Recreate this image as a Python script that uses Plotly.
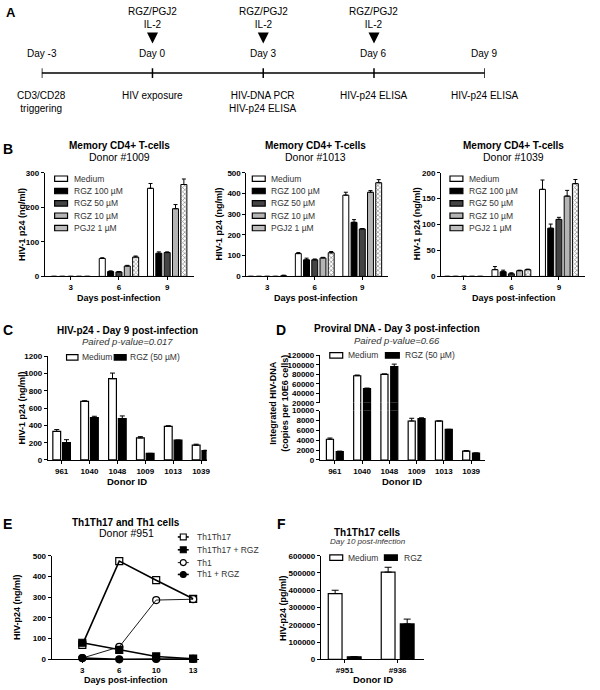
import plotly.graph_objects as go

W, H = 600, 690
FONT = "Liberation Sans, Arial, Helvetica, sans-serif"

# ---------------- DATA ----------------
# Panel A (timeline)
timeline_days = [-3, 0, 3, 6, 9]
timeline_day_labels = ["Day -3", "Day 0", "Day 3", "Day 6", "Day 9"]
timeline_events = ["CD3/CD28<br>triggering", "HIV exposure", "HIV-DNA PCR<br>HIV-p24 ELISA",
                   "HIV-p24 ELISA", "HIV-p24 ELISA"]
treatment_days = [0, 3, 6]
treatment_text = "RGZ/PGJ2<br>IL-2"

# Panel B (memory CD4+ T-cells, HIV-1 p24 ng/ml)
b_days = ["3", "6", "9"]
b_series = ["Medium", "RGZ 100 µM", "RGZ 50 µM", "RGZ 10 µM", "PGJ2 1 µM"]
b_donors = ["Donor #1009", "Donor #1013", "Donor #1039"]

d1009_medium = [0, 52, 255];  d1009_medium_err = [0, 2, 14]
d1009_rgz100 = [0, 14, 67];   d1009_rgz100_err = [0, 2, 4]
d1009_rgz50 = [0, 13, 69];    d1009_rgz50_err = [0, 1, 2]
d1009_rgz10 = [0, 30, 196];   d1009_rgz10_err = [0, 2, 12]
d1009_pgj2 = [0, 56, 266];    d1009_pgj2_err = [0, 3, 16]

d1013_medium = [0, 110, 392]; d1013_medium_err = [0, 5, 14]
d1013_rgz100 = [0, 80, 261];  d1013_rgz100_err = [0, 8, 13]
d1013_rgz50 = [0, 80, 229];   d1013_rgz50_err = [0, 4, 2]
d1013_rgz10 = [0, 89, 406];   d1013_rgz10_err = [0, 3, 8]
d1013_pgj2 = [3, 114, 452];   d1013_pgj2_err = [3, 6, 15]

d1039_medium = [0, 13, 168];  d1039_medium_err = [0, 6, 18]
d1039_rgz100 = [0, 9, 93];    d1039_rgz100_err = [0, 3, 8]
d1039_rgz50 = [0, 5, 110];    d1039_rgz50_err = [0, 2, 4]
d1039_rgz10 = [0, 11, 155];   d1039_rgz10_err = [0, 1, 11]
d1039_pgj2 = [0, 13, 179];    d1039_pgj2_err = [0, 1, 8]

b_yticks = [[0, 100, 200, 300], [0, 100, 200, 300, 400, 500], [0, 50, 100, 150, 200]]

# Panel C (HIV-p24 day 9)
c_donors = ["961", "1040", "1048", "1009", "1013", "1039"]
c_medium = [330, 678, 941, 255, 389, 171]
c_medium_err = [22, 8, 65, 15, 8, 12]
c_rgz = [200, 491, 478, 76, 229, 108]
c_rgz_err = [35, 15, 32, 0, 0, 5]
c_yticks = [0, 200, 400, 600, 800, 1000, 1200]

# Panel D (proviral DNA day 3)
d_donors = ["961", "1040", "1048", "1009", "1013", "1039"]
d_medium = [4200, 77000, 80000, 7900, 7900, 1800]
d_medium_err = [250, 1500, 800, 550, 0, 100]
d_rgz = [1700, 50000, 96500, 8400, 6200, 1400]
d_rgz_err = [100, 1000, 5000, 150, 0, 0]
d_yticks_low = [0, 2000, 4000, 6000, 8000, 10000]
d_yticks_high = [20000, 40000, 60000, 80000, 100000, 120000]

# Panel E (Th1Th17 and Th1 cells, donor #951)
e_days = ["3", "6", "10", "13"]
e_th1th17 = [70, 474, 382, 292]
e_th1th17_rgz = [80, 46, 14, 3]
e_th1 = [6, 60, 286, 290]
e_th1_rgz = [6, 0, 2, 2]
e_yticks = [0, 100, 200, 300, 400, 500]

# Panel F (Th1Th17 cells day 10)
f_donors = ["#951", "#936"]
f_medium = [381000, 505000]
f_medium_err = [19000, 28000]
f_rgz = [15000, 205000]
f_rgz_err = [0, 28000]
f_yticks = [0, 100000, 200000, 300000, 400000, 500000, 600000]

# ---------------- HELPERS ----------------
def px(x):
    return x / W

def py(y):
    return 1 - y / H

def dom_x(a, b):
    return [a / W, b / W]

def dom_y(top, bottom):
    return [1 - bottom / H, 1 - top / H]

TICKFONT = dict(family=FONT, size=8, color="black", weight="bold")

def axstyle(**kw):
    d = dict(showline=True, linecolor="black", linewidth=1, ticks="outside", ticklen=3,
             tickwidth=1, tickcolor="black", showgrid=False, zeroline=False,
             tickfont=TICKFONT, fixedrange=True)
    d.update(kw)
    return d

annotations = []
shapes = []

def text(x, y, s, size=10, bold=False, italic=False, color="black", xanchor="center",
         yanchor="middle", angle=0, align="center"):
    annotations.append(dict(
        x=px(x), y=py(y), xref="paper", yref="paper", text=s, showarrow=False,
        xanchor=xanchor, yanchor=yanchor, textangle=angle, align=align, borderpad=0,
        font=dict(family=FONT, size=size, color=color,
                  weight="bold" if bold else "normal",
                  style="italic" if italic else "normal")))

def legend_box(x0, yc, w, h, fill):
    shapes.append(dict(type="rect", xref="paper", yref="paper",
                       x0=px(x0), x1=px(x0 + w), y0=py(yc + h / 2), y1=py(yc - h / 2),
                       line=dict(color="black", width=1.2), fillcolor=fill, layer="above"))

fig = go.Figure()
layout = {}

# ---------------- PANEL A ----------------
layout["xaxis"] = dict(domain=dom_x(42, 488), range=[-3, 9], visible=False, fixedrange=True)
layout["yaxis"] = dict(domain=dom_y(0, 110), range=[110, 0], visible=False, fixedrange=True, anchor="x")
LINE_Y = 70
fig.add_trace(go.Scatter(x=timeline_days, y=[LINE_Y] * len(timeline_days), mode="lines+markers",
                         line=dict(color="black", width=1.5),
                         marker=dict(symbol="line-ns", size=7, line=dict(color="black", width=1.5)),
                         xaxis="x", yaxis="y", showlegend=False, hoverinfo="skip"))
for d, lab, ev in zip(timeline_days, timeline_day_labels, timeline_events):
    annotations.append(dict(x=d, y=50, xref="x", yref="y", text=lab, showarrow=False,
                            font=dict(family=FONT, size=10, color="black")))
    annotations.append(dict(x=d, y=85, xref="x", yref="y", text=ev, showarrow=False,
                            yanchor="top", font=dict(family=FONT, size=10, color="black")))
for d in treatment_days:
    annotations.append(dict(x=d, y=14, xref="x", yref="y", text=treatment_text, showarrow=False,
                            font=dict(family=FONT, size=10, color="black")))
    annotations.append(dict(x=d, y=40, xref="x", yref="y", ax=d, ay=29, axref="x", ayref="y",
                            text="", showarrow=True, arrowhead=2, arrowsize=1.1, arrowwidth=2,
                            arrowcolor="black"))
text(11, 9, "A", size=13, bold=True)

# ---------------- PANEL B ----------------
b_data = [
    [(d1009_medium, d1009_medium_err), (d1009_rgz100, d1009_rgz100_err), (d1009_rgz50, d1009_rgz50_err),
     (d1009_rgz10, d1009_rgz10_err), (d1009_pgj2, d1009_pgj2_err)],
    [(d1013_medium, d1013_medium_err), (d1013_rgz100, d1013_rgz100_err), (d1013_rgz50, d1013_rgz50_err),
     (d1013_rgz10, d1013_rgz10_err), (d1013_pgj2, d1013_pgj2_err)],
    [(d1039_medium, d1039_medium_err), (d1039_rgz100, d1039_rgz100_err), (d1039_rgz50, d1039_rgz50_err),
     (d1039_rgz10, d1039_rgz10_err), (d1039_pgj2, d1039_pgj2_err)],
]
b_fills = ["white", "black", "#444444", "#b4b4b4", "white"]
b_legend_fills = ["white", "black", "#444444", "#b4b4b4", "#bdbdbd"]
b_xdom = [(45, 195), (248, 391), (444, 589)]
b_xrange = [[-0.54, 2.55], [-0.44, 2.55], [-0.48, 2.55]]
b_center = [120, 318, 517]
b_ylab_x = [22, 221, 420]
b_leg_x = [55, 254, 453]
b_leg_y = [177, 189.5, 202, 214.5, 227]
BW, BSTEP = 0.125, 0.173

for p in range(3):
    xa, ya = f"x{p+2}", f"y{p+2}"
    layout[f"xaxis{p+2}"] = axstyle(domain=dom_x(*b_xdom[p]), range=b_xrange[p], type="category",
                                    categoryorder="array", categoryarray=b_days, anchor=ya)
    layout[f"yaxis{p+2}"] = axstyle(domain=dom_y(171, 276), range=[0, b_yticks[p][-1]],
                                    tickvals=b_yticks[p], anchor=xa)
    for i, ((vals, errs), name) in enumerate(zip(b_data[p], b_series)):
        marker = dict(color=b_fills[i], line=dict(color="black", width=1))
        if i == 4:
            marker["pattern"] = dict(shape="x", size=3, solidity=0.45, fgcolor="#333333", bgcolor="white")
        fig.add_trace(go.Bar(x=b_days, y=vals, name=name, xaxis=xa, yaxis=ya, showlegend=False,
                             width=BW, offset=(i - 2) * BSTEP - BW / 2, marker=marker,
                             error_y=dict(type="data", array=errs, arrayminus=[0] * len(errs),
                                          symmetric=False, color="black", thickness=1, width=2)))
    text(b_center[p], 143, "Memory CD4+ T-cells", size=10, bold=True)
    text(b_center[p], 155, b_donors[p], size=10.5)
    text(b_center[p], 298, "Days post-infection", size=9, bold=True)
    text(b_ylab_x[p], 223, "HIV-1 p24 (ng/ml)", size=9, bold=True, angle=-90)
    for i, name in enumerate(b_series):
        legend_box(b_leg_x[p], b_leg_y[i], 13, 5.5, b_legend_fills[i])
        text(b_leg_x[p] + 18, b_leg_y[i], name, size=8.5, color="#333333", xanchor="left")
text(8, 147, "B", size=14, bold=True)

# ---------------- PANEL C ----------------
layout["xaxis5"] = axstyle(domain=dom_x(48, 208), range=[-0.5, 5.2], type="category",
                           categoryorder="array", categoryarray=c_donors, anchor="y5")
layout["yaxis5"] = axstyle(domain=dom_y(357, 462), range=[0, 1200], tickvals=c_yticks, anchor="x5")
for vals, errs, fill, off in [(c_medium, c_medium_err, "white", -0.315),
                              (c_rgz, c_rgz_err, "black", 0.035)]:
    fig.add_trace(go.Bar(x=c_donors, y=vals, xaxis="x5", yaxis="y5", showlegend=False,
                         width=0.28, offset=off,
                         marker=dict(color=fill, line=dict(color="black", width=1.2)),
                         error_y=dict(type="data", array=errs, arrayminus=[0] * len(errs),
                                      symmetric=False, color="black", thickness=1, width=2.5)))
text(8, 330, "C", size=14, bold=True)
text(128, 331, "HIV-p24 - Day 9 post-infection", size=10, bold=True)
text(128, 342, "Paired p-value=0.017", size=9.5, italic=True, color="#333333")
text(128, 484, "Donor ID", size=9.5, bold=True)
text(22, 409, "HIV-1 p24 (ng/ml)", size=9, bold=True, angle=-90)
legend_box(67, 358, 11.5, 5.5, "white")
text(82, 358, "Medium", size=8.5, color="#333333", xanchor="left")
legend_box(115, 358, 12, 5.5, "black")
text(130, 358, "RGZ (50 µM)", size=8.5, color="#333333", xanchor="left")

# ---------------- PANEL D (broken axis) ----------------
d_xdom = dom_x(322, 488)
d_xrange = [-0.55, 5.5]
layout["xaxis6"] = axstyle(domain=d_xdom, range=d_xrange, type="category",
                           categoryorder="array", categoryarray=d_donors, anchor="y6")
layout["yaxis6"] = axstyle(domain=dom_y(412, 462), range=[0, 10000], tickvals=d_yticks_low,
                           ticktext=[str(v) for v in d_yticks_low], anchor="x6")
for k in (7, 8):
    layout[f"xaxis{k}"] = dict(domain=d_xdom, range=d_xrange, type="category", categoryorder="array",
                               categoryarray=d_donors, visible=False, anchor=f"y{k}", fixedrange=True)
layout["yaxis7"] = dict(domain=dom_y(404, 412), range=[10000, 20000], visible=False, anchor="x7",
                        fixedrange=True)
layout["yaxis8"] = axstyle(domain=dom_y(356, 404), range=[20000, 120000], tickvals=d_yticks_high,
                           ticktext=[str(v) for v in d_yticks_high], anchor="x8")
for k in (6, 7, 8):
    for vals, errs, fill, off in [(d_medium, d_medium_err, "white", -0.31),
                                  (d_rgz, d_rgz_err, "black", 0.05)]:
        fig.add_trace(go.Bar(x=d_donors, y=vals, xaxis=f"x{k}", yaxis=f"y{k}", showlegend=False,
                             width=0.26, offset=off,
                             marker=dict(color=fill, line=dict(color="black", width=1.2)),
                             error_y=dict(type="data", array=errs, arrayminus=[0] * len(errs),
                                          symmetric=False, color="black", thickness=1, width=2.5,
                                          visible=(k != 7))))
text(283, 330, "D", size=14, bold=True)
text(400, 329, "Proviral DNA - Day 3 post-infection", size=10, bold=True)
text(400, 341, "Paired p-value=0.66", size=9.5, italic=True, color="#333333")
text(405, 484, "Donor ID", size=9.5, bold=True)
text(281, 405, "Integrated HIV-DNA<br>(copies per 10E6 cells)", size=9, bold=True, angle=-90)
legend_box(332, 356, 13, 5.5, "white")
text(349, 356, "Medium", size=8.5, color="#333333", xanchor="left")
legend_box(388, 356, 14, 5.5, "black")
text(407, 356, "RGZ (50 µM)", size=8.5, color="#333333", xanchor="left")

# ---------------- PANEL E ----------------
layout["xaxis9"] = axstyle(domain=dom_x(52, 200), range=[-0.83, 3.15], type="category",
                           categoryorder="array", categoryarray=e_days, anchor="y9")
layout["yaxis9"] = axstyle(domain=dom_y(559, 664), range=[0, 500], tickvals=e_yticks, anchor="x9")
e_series = [
    ("Th1Th17", e_th1th17, "square-open", 1.6),
    ("Th1Th17 + RGZ", e_th1th17_rgz, "square", 1.6),
    ("Th1", e_th1, "circle-open", 0.9),
    ("Th1 + RGZ", e_th1_rgz, "circle", 1.6),
]
for name, vals, sym, lw in e_series:
    fig.add_trace(go.Scatter(x=e_days, y=vals, name=name, xaxis="x9", yaxis="y9", showlegend=False,
                             mode="lines+markers", cliponaxis=False,
                             line=dict(color="black", width=lw),
                             marker=dict(symbol=sym, size=7, color="black",
                                         line=dict(color="black", width=1.2))))
text(8, 527, "E", size=14, bold=True)
text(127, 525, "Th1Th17 and Th1 cells", size=10, bold=True)
text(127, 536, "Donor #951", size=10.5)
text(127, 684.5, "Days post-infection", size=9, bold=True)
text(17, 611, "HIV-p24 (ng/ml)", size=9, bold=True, angle=-90)
e_leg_y = [540, 553, 566, 578]
for (name, vals, sym, lw), yy in zip(e_series, e_leg_y):
    shapes.append(dict(type="line", xref="paper", yref="paper", x0=px(179), x1=px(190),
                       y0=py(yy), y1=py(yy), line=dict(color="black", width=lw)))
    fill = "black" if sym in ("square", "circle") else "white"
    stype = "rect" if sym.startswith("square") else "circle"
    shapes.append(dict(type=stype, xref="paper", yref="paper", x0=px(181.5), x1=px(187.5),
                       y0=py(yy + 3), y1=py(yy - 3), line=dict(color="black", width=1.1),
                       fillcolor=fill, layer="above"))
    text(197, yy, name, size=8.5, color="#333333", xanchor="left")

# ---------------- PANEL F ----------------
layout["xaxis10"] = axstyle(domain=dom_x(323, 427), range=[-0.45, 1.5], type="category",
                            categoryorder="array", categoryarray=f_donors, anchor="y10")
layout["yaxis10"] = axstyle(domain=dom_y(559, 664), range=[0, 600000], tickvals=f_yticks,
                            ticktext=[str(v) for v in f_yticks], anchor="x10")
for vals, errs, fill, off in [(f_medium, f_medium_err, "white", -0.31),
                              (f_rgz, f_rgz_err, "black", 0.05)]:
    fig.add_trace(go.Bar(x=f_donors, y=vals, xaxis="x10", yaxis="y10", showlegend=False,
                         width=0.26, offset=off,
                         marker=dict(color=fill, line=dict(color="black", width=1.2)),
                         error_y=dict(type="data", array=errs, arrayminus=[0] * len(errs),
                                      symmetric=False, color="black", thickness=1, width=3.5)))
text(283, 527, "F", size=14, bold=True)
text(370, 535, "Th1Th17 cells", size=10, bold=True)
text(370, 545, "Day 10 post-infection", size=8, italic=True, color="#333333")
text(375, 684.5, "Donor ID", size=9.5, bold=True)
text(285, 612, "HIV-p24 (pg/ml)", size=9, bold=True, angle=-90)
legend_box(332, 561, 13, 5.5, "white")
text(349, 561, "Medium", size=8.5, color="#333333", xanchor="left")
legend_box(387, 561, 13, 5.5, "black")
text(406, 561, "RGZ", size=8.5, color="#333333", xanchor="left")

fig.update_layout(
    width=W, height=H, margin=dict(l=0, r=0, t=0, b=0),
    paper_bgcolor="white", plot_bgcolor="rgba(0,0,0,0)",
    barmode="overlay", showlegend=False,
    font=dict(family=FONT, size=10, color="black"),
    annotations=annotations, shapes=shapes,
    **layout,
)
fig.write_html("out.html", config={"displayModeBar": False},
               post_script="document.body.style.margin='0';")
